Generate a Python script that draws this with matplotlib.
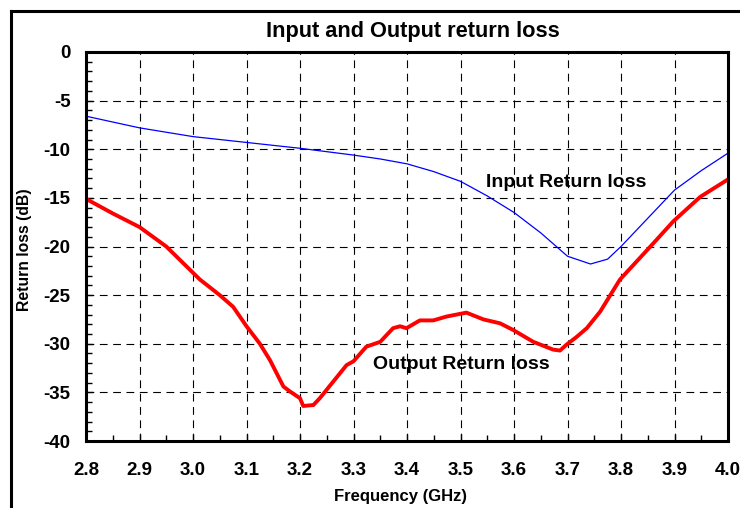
""" Input and output return loss vs frequency. """
import numpy as np
import matplotlib.pyplot as plt
from matplotlib.lines import Line2D
from matplotlib.ticker import MultipleLocator

# Input return loss (blue)
freq_in = [2.80, 2.90, 3.00, 3.10, 3.20, 3.30, 3.35, 3.40, 3.45, 3.50, 3.55,
           3.60, 3.65, 3.70, 3.743, 3.775, 3.80, 3.85, 3.90, 3.95, 4.00]
rl_in = [-6.6, -7.8, -8.7, -9.3, -9.9, -10.6, -11.0, -11.5, -12.3, -13.3, -14.8,
         -16.5, -18.6, -21.0, -21.8, -21.3, -20.0, -17.1, -14.2, -12.2, -10.4]

# Output return loss (red)
freq_out = [2.80, 2.85, 2.90, 2.95, 3.013, 3.050, 3.075, 3.100, 3.125, 3.144,
            3.169, 3.181, 3.200, 3.206, 3.225, 3.237, 3.262, 3.287, 3.300,
            3.324, 3.350, 3.374, 3.387, 3.399, 3.424, 3.449, 3.474, 3.511,
            3.543, 3.574, 3.599, 3.636, 3.673, 3.686, 3.698, 3.717, 3.736,
            3.761, 3.798, 3.860, 3.898, 3.948, 4.00]
rl_out = [-15.1, -16.6, -18.0, -20.0, -23.4, -25.0, -26.2, -28.2, -30.0, -31.7,
          -34.4, -34.9, -35.6, -36.4, -36.3, -35.6, -33.9, -32.2, -31.8,
          -30.3, -29.8, -28.4, -28.2, -28.4, -27.6, -27.6, -27.2, -26.8,
          -27.5, -27.9, -28.6, -29.8, -30.6, -30.7, -30.1, -29.3, -28.4,
          -26.7, -23.4, -19.7, -17.4, -14.9, -13.1]


def main() -> None:
    """Draw the chart. """
    plt.rcParams['font.family'] = ['Liberation Sans', 'DejaVu Sans']
    plt.rcParams['font.weight'] = 'bold'
    plt.rcParams['axes.unicode_minus'] = False

    fig = plt.figure(figsize=(7.4, 5.08), dpi=100)
    ax = fig.add_axes([86 / 740, 1 - 441 / 508, 642 / 740, 389 / 508])

    ax.plot(freq_in, rl_in, color='#0000ff', lw=0.9)
    ax.plot(freq_out, rl_out, color='#ff0000', lw=2.8)

    ax.set_xlim(2.8, 4.0)
    ax.set_ylim(-40, 0)
    ax.xaxis.set_minor_locator(MultipleLocator(0.05))
    ax.yaxis.set_major_locator(MultipleLocator(5))
    ax.yaxis.set_minor_locator(MultipleLocator(1))
    xt = np.round(np.arange(2.8, 4.01, 0.1), 1)
    ax.set_xticks(xt)
    ax.set_xticklabels([f"{v:.1f}" for v in xt])

    ax.tick_params(which='both', direction='in', width=1.0, labelsize=13.5)
    ax.tick_params(which='major', length=5)
    ax.tick_params(which='minor', length=4)
    ax.tick_params(axis='x', which='major', pad=15)
    ax.tick_params(axis='y', which='major', pad=11)
    for lbl in ax.get_xticklabels() + ax.get_yticklabels():
        lbl.set_fontweight('bold')

    ax.grid(True, which='major', color='black', lw=0.8,
            linestyle=(0, (7, 5)))
    for sp in ax.spines.values():
        sp.set_linewidth(2.2)

    ax.text(3.697, -13.4, "Input Return loss", fontsize=14, fontweight='bold',
            ha='center', va='center')
    ax.text(3.501, -32.1, "Output Return loss", fontsize=14,
            fontweight='bold', ha='center', va='center')

    fig.text(413 / 740, 1 - 32 / 508, "Input and Output return loss",
             fontsize=15.7, fontweight='bold', ha='center', va='center')
    fig.text(400 / 740, 1 - 496 / 508, "Frequency (GHz)", fontsize=12,
             fontweight='bold', ha='center', va='center')
    fig.text(25 / 740, 1 - 250 / 508, "Return loss (dB)", fontsize=11.3,
             fontweight='bold', ha='center', va='center', rotation=90)

    # outer frame, cut off at the right and bottom
    fig.add_artist(Line2D([11 / 740, 11 / 740], [0, 1 - 11 / 508],
                          transform=fig.transFigure, color='black', lw=2.2))
    fig.add_artist(Line2D([11 / 740, 1], [1 - 11 / 508, 1 - 11 / 508],
                          transform=fig.transFigure, color='black', lw=2.2))

    fig.savefig("out.png", dpi=100)
    plt.close(fig)


if __name__ == "__main__":
    main()
